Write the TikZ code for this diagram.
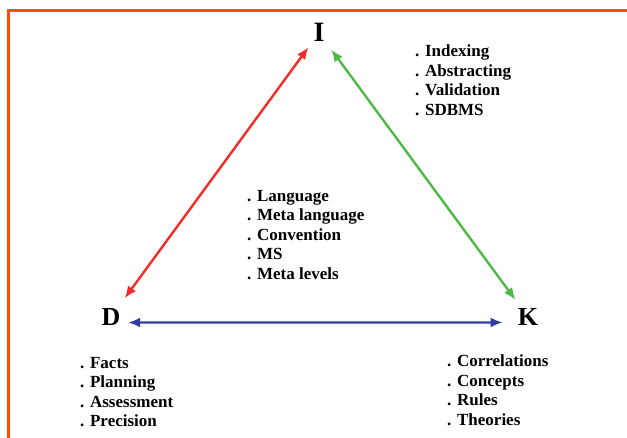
\documentclass[tikz,border=0pt]{standalone}
\usepackage{fontspec}
\setmainfont{Liberation Serif}
\usetikzlibrary{arrows.meta}
\definecolor{frameorange}{RGB}{255,80,0}
\definecolor{linkred}{RGB}{240,45,40}
\definecolor{linkgreen}{RGB}{80,185,70}
\definecolor{linkblue}{RGB}{50,60,165}
\tikzset{
  letter/.style={font=\bfseries\fontsize{26}{30}\selectfont, inner sep=2pt, anchor=base},
  items/.style={font=\bfseries\fontsize{17}{19.5}\selectfont, align=left, anchor=north west, inner sep=0pt},
  link/.style={line width=2.4pt, {Latex[length=12pt,width=10pt]}-{Latex[length=12pt,width=10pt]}}
}
\begin{document}
\begin{tikzpicture}[x=1pt,y=-1pt]
\useasboundingbox (0,0) rectangle (627,438);

\draw[frameorange, line width=3pt] (8.5,438) -- (8.5,10.5) -- (627,10.5);

\node[letter, font=\bfseries\fontsize{28}{32}\selectfont] (I) at (319,42) {I};
\node[letter] (D) at (111,325.5) {D};
\node[letter] (K) at (528,325.5) {K};

\draw[link, linkred, shorten <=10pt, shorten >=5pt] (D) -- (I);
\draw[link, linkgreen, shorten <=8pt, shorten >=8pt] (I) -- (K);
\draw[link, linkblue, shorten <=5.5pt, shorten >=13pt] ([yshift=-5.5pt]D.east) -- ([yshift=-5.5pt]K.west);

\node[items] (Iitems) at (415,45) {. Indexing\\. Abstracting\\. Validation\\. SDBMS};
\node[items] (middle) at (247,190) {. Language\\. Meta language\\. Convention\\. MS\\. Meta levels};
\node[items] (Ditems) at (80,357) {. Facts\\. Planning\\. Assessment\\. Precision};
\node[items] (Kitems) at (447,355) {. Correlations\\. Concepts\\. Rules\\. Theories};

\end{tikzpicture}
\end{document}
